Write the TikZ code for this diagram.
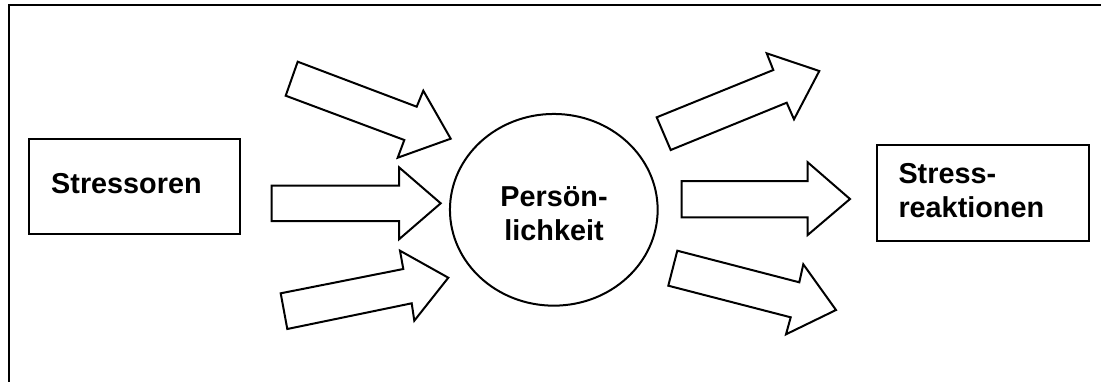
\documentclass[tikz,border=0pt]{standalone}
\usepackage{fontspec}
\setmainfont{Liberation Sans}
\usetikzlibrary{shapes.geometric}
\begin{document}
\begin{tikzpicture}[x=1pt,y=-1pt,
  line/.style={draw=black,line width=2pt,line join=miter},
  box/.style={line,rectangle,inner sep=0pt},
  lbl/.style={inner sep=0pt,font=\fontsize{28.8}{34}\selectfont\bfseries},
  blockarrow/.style={line,fill=white}]
\useasboundingbox (0,0) rectangle (1101,381);
% frame (top and left edges only)
\coordinate (ftl) at (9.3,4.7);
\coordinate (ftr) at (1102,4.7);
\coordinate (fbl) at (9.3,382);
\draw[line width=2pt] (ftr) -- (ftl) -- (fbl);
% boxes
\node[box,minimum width=210.7pt,minimum height=95.3pt] (stressoren) at (134.65,186.65) {};
\node[lbl,anchor=base west] (stressorenT) at (51,193.3) {Stressoren};
\node[box,minimum width=211.7pt,minimum height=96pt] (reaktionen) at (983.15,193) {};
\node[lbl,anchor=base west,align=left] (reaktionenT) at (898.3,217.3) {Stress-\\reaktionen};
% ellipse
\node[line,ellipse,inner sep=0pt,minimum width=207.7pt,minimum height=191.7pt] (pers) at (553.8,209.8) {};
\node[lbl,anchor=base,align=center] (persT) at (554,240) {Persön-\\lichkeit};
% block arrows
\draw[blockarrow] (297.7,61.7) -- (416.7,106.7) -- (423.3,90.7) -- (450.7,138.7) -- (397.7,157.7) -- (404.3,140) -- (285.7,95.7) -- cycle;
\draw[blockarrow] (271.7,185.7) -- (399,185.7) -- (399,167.3) -- (440.7,203.3) -- (399,239.3) -- (399,221) -- (271.7,221) -- cycle;
\draw[blockarrow] (280.7,293.3) -- (403.3,269) -- (400,250.7) -- (448.3,277.7) -- (414.3,320.7) -- (411.7,303.3) -- (287.3,329) -- cycle;
\draw[blockarrow] (656.7,117.3) -- (773.3,70) -- (766.7,53.3) -- (819.3,71) -- (794,119.3) -- (786.7,102.7) -- (670.7,150) -- cycle;
\draw[blockarrow] (681.7,181) -- (807.7,181) -- (807.7,162.3) -- (850,199) -- (807.7,235) -- (807.7,217.3) -- (681.7,217.3) -- cycle;
\draw[blockarrow] (677.3,250.7) -- (799.3,282.3) -- (803.3,264.3) -- (836,310) -- (786,334.3) -- (790.7,317.3) -- (668.3,285.7) -- cycle;
\end{tikzpicture}
\end{document}
